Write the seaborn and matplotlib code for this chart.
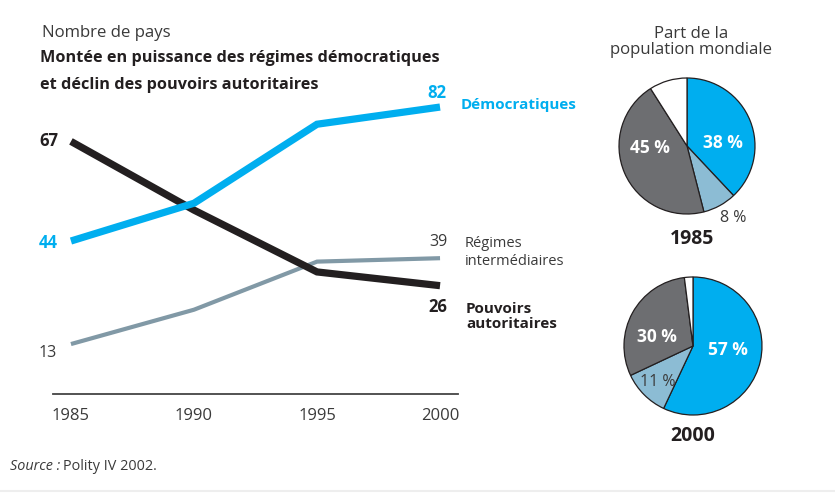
import pandas as pd
import seaborn as sns
import matplotlib.pyplot as plt
from matplotlib.lines import Line2D

# number of countries by regime type (values as drawn on the chart)
years = [1985, 1990, 1995, 2000]
democratic = [43, 54, 77, 82]
intermediate = [13, 23, 37, 38]
authoritarian = [72, 52, 34, 30]

# figures printed at both ends of the lines
start_labels = {"Démocratiques": "44", "Pouvoirs autoritaires": "67", "Régimes intermédiaires": "13"}
end_labels = {"Démocratiques": "82", "Pouvoirs autoritaires": "26", "Régimes intermédiaires": "39"}

# share of world population (%)
pie_parts = ["Démocratiques", "Régimes intermédiaires", "Pouvoirs autoritaires", "Autres"]
share_1985 = [38, 8, 45, 9]
share_2000 = [57, 11, 30, 2]

BLUE = "#00aeef"
GREY_LINE = "#8199a6"
BLACK = "#231f20"
TEXT = "#3a3a3a"
PIE_COLORS = [BLUE, "#8cbcd4", "#6d6e71", "white"]


def main():
    sns.set_style("white")
    plt.rcParams['font.family'] = ['Open Sans', 'DejaVu Sans']

    df = pd.DataFrame({
        "year": years * 3,
        "pays": democratic + intermediate + authoritarian,
        "regime": ["Démocratiques"] * 4 + ["Régimes intermédiaires"] * 4 + ["Pouvoirs autoritaires"] * 4,
    })
    palette = {"Démocratiques": BLUE, "Régimes intermédiaires": GREY_LINE, "Pouvoirs autoritaires": BLACK}
    widths = {"Démocratiques": 5.2, "Régimes intermédiaires": 3.0, "Pouvoirs autoritaires": 5.2}

    fig = plt.figure(figsize=(8.35, 5.03), dpi=100)
    ax = fig.add_axes([53 / 835, 1 - 394 / 503, 405 / 835, 334 / 503])

    for regime in ["Régimes intermédiaires", "Pouvoirs autoritaires", "Démocratiques"]:
        sub = df[df["regime"] == regime]
        sns.lineplot(data=sub, x="year", y="pays", color=palette[regime], lw=widths[regime],
                     ax=ax, legend=False, clip_on=False, solid_capstyle="butt", solid_joinstyle="miter")

    ax.set_xlim(1984.27, 2000.73)
    ax.set_ylim(-1.54, 95.7)
    ax.set_xticks(years)
    ax.set_xticklabels([str(y) for y in years], fontsize=12, color=TEXT)
    ax.set_yticks([])
    ax.set_xlabel("")
    ax.set_ylabel("")
    ax.tick_params(axis="x", length=0, pad=10)
    for side in ["top", "right", "left"]:
        ax.spines[side].set_visible(False)
    ax.spines["bottom"].set_color("#444444")
    ax.spines["bottom"].set_linewidth(1.3)

    # start labels
    first = {"Démocratiques": democratic[0], "Pouvoirs autoritaires": authoritarian[0],
             "Régimes intermédiaires": intermediate[0]}
    ax.annotate(start_labels["Pouvoirs autoritaires"], (years[0], first["Pouvoirs autoritaires"]),
                xytext=(-13, 0), textcoords="offset pixels", ha="right", va="center",
                fontsize=12, fontweight="bold", color=BLACK)
    ax.annotate(start_labels["Démocratiques"], (years[0], first["Démocratiques"]),
                xytext=(-13, -2), textcoords="offset pixels", ha="right", va="center",
                fontsize=12, fontweight="bold", color=BLUE)
    ax.annotate(start_labels["Régimes intermédiaires"], (years[0], first["Régimes intermédiaires"]),
                xytext=(-14, -9), textcoords="offset pixels", ha="right", va="center",
                fontsize=11.5, color=TEXT)

    # end labels
    ax.annotate(end_labels["Démocratiques"], (years[-1], democratic[-1]),
                xytext=(-3, 14), textcoords="offset pixels", ha="center", va="center",
                fontsize=12, fontweight="bold", color=BLUE)
    ax.annotate("Démocratiques", (years[-1], democratic[-1]),
                xytext=(21, 2), textcoords="offset pixels", ha="left", va="center",
                fontsize=11, fontweight="bold", color=BLUE)
    ax.annotate(end_labels["Régimes intermédiaires"], (years[-1], intermediate[-1]),
                xytext=(-2, 16), textcoords="offset pixels", ha="center", va="center",
                fontsize=11.5, color=TEXT)
    ax.annotate("Régimes\nintermédiaires", (years[-1], intermediate[-1]),
                xytext=(25, 6), textcoords="offset pixels", ha="left", va="center",
                fontsize=10.5, color=TEXT, linespacing=1.25)
    ax.annotate(end_labels["Pouvoirs autoritaires"], (years[-1], authoritarian[-1]),
                xytext=(-2, -21), textcoords="offset pixels", ha="center", va="center",
                fontsize=12, fontweight="bold", color=BLACK)
    ax.annotate("Pouvoirs\nautoritaires", (years[-1], authoritarian[-1]),
                xytext=(26, -31), textcoords="offset pixels", ha="left", va="center",
                fontsize=11, fontweight="bold", color=BLACK, linespacing=1.1)

    # titles
    fig.text(42 / 835, 1 - 33 / 503, "Nombre de pays", fontsize=12.1, color=TEXT, va="center")
    fig.text(40 / 835, 1 - 58 / 503, "Montée en puissance des régimes démocratiques",
             fontsize=11.7, fontweight="bold", color=BLACK, va="center")
    fig.text(40 / 835, 1 - 85 / 503, "et déclin des pouvoirs autoritaires",
             fontsize=11.7, fontweight="bold", color=BLACK, va="center")
    fig.text(691 / 835, 1 - 42 / 503, "Part de la\npopulation mondiale", fontsize=12.1,
             color=TEXT, ha="center", va="center", linespacing=1.02)

    # pies
    pies = [
        (share_1985, [619, 78, 136], "1985",
         [(0.53, 0.04, "white", "bold"), (0.68, -1.06, TEXT, "normal"), (-0.54, -0.03, "white", "bold")],
         (0.07, -1.37)),
        (share_2000, [624, 277, 138], "2000",
         [(0.51, -0.06, "white", "bold"), (-0.51, -0.52, TEXT, "normal"), (-0.52, 0.13, "white", "bold")],
         (-0.01, -1.3)),
    ]
    for shares, box, year, spots, ypos in pies:
        left, top, size = box
        pax = fig.add_axes([left / 835, 1 - (top + size) / 503, size / 835, size / 503])
        pax.pie(shares, colors=PIE_COLORS, startangle=90, counterclock=False,
                wedgeprops={"edgecolor": BLACK, "linewidth": 0.9})
        pax.set_xlim(-1, 1)
        pax.set_ylim(-1, 1)
        pax.set_aspect("equal")
        pax.axis("off")
        for (x, y, col, wt), val in zip(spots, shares[:3]):
            pax.text(x, y, f"{val} %", color=col, fontweight=wt, ha="center", va="center",
                     fontsize=12.5 if wt == "bold" else 11.5, clip_on=False)
        pax.text(ypos[0], ypos[1], year, fontsize=14, fontweight="bold", color=BLACK,
                 ha="center", va="center", clip_on=False)

    fig.text(10 / 835, 1 - 466 / 503, "Source :", fontsize=10.4, style="italic", color=TEXT, va="center")
    fig.text(63 / 835, 1 - 466 / 503, "Polity IV 2002.", fontsize=10.4, color=TEXT, va="center")
    fig.add_artist(Line2D([0, 1], [1 - 491 / 503] * 2, color="#eeeeee", lw=1.5))

    fig.savefig("out.png", dpi=100)


if __name__ == "__main__":
    main()
